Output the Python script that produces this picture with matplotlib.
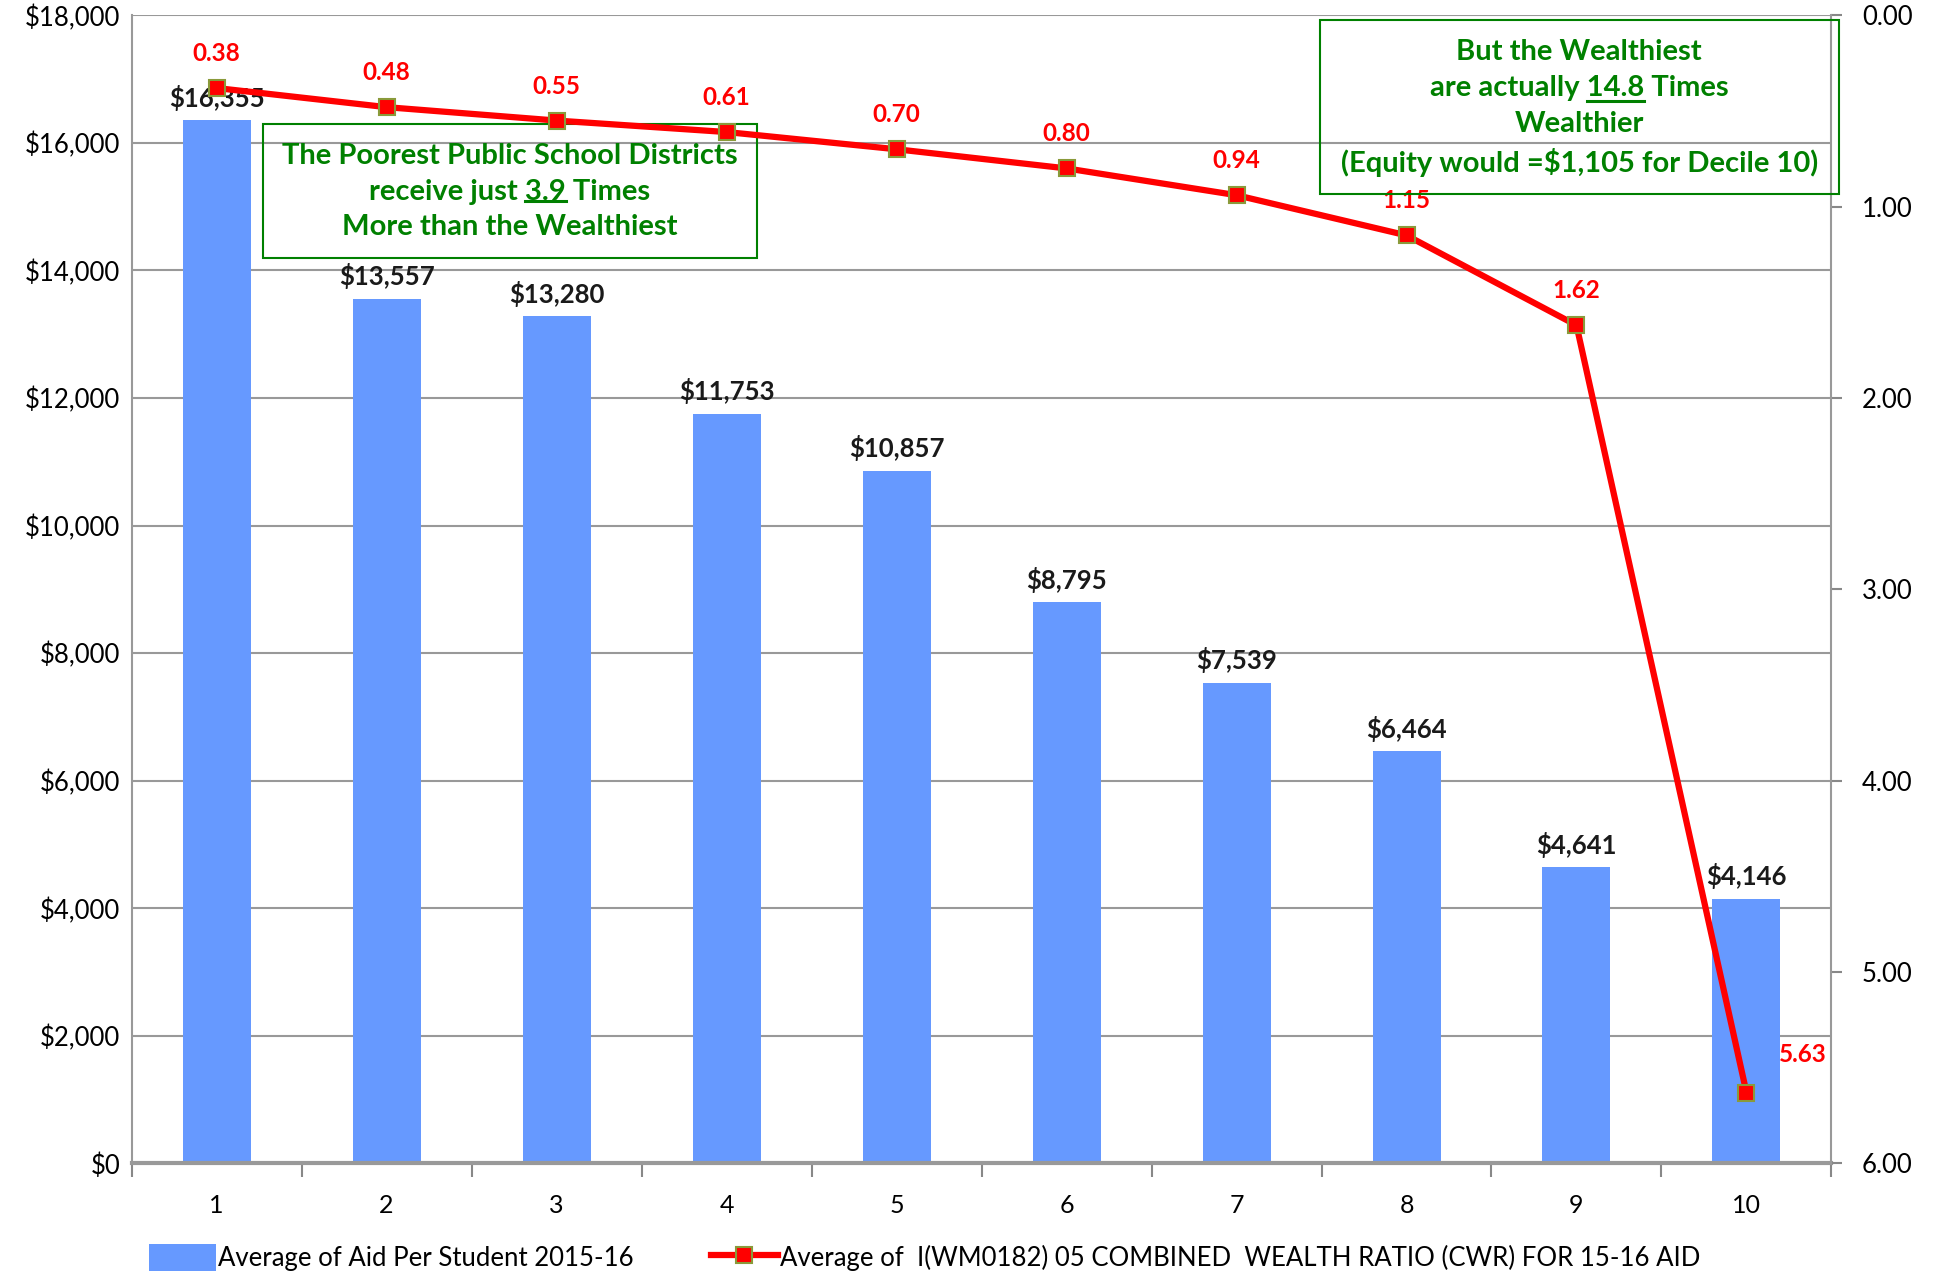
import matplotlib.pyplot as plt
from matplotlib.lines import Line2D
from matplotlib.patches import Rectangle
import numpy as np

plt.rcParams["font.family"] = ["Lato", "DejaVu Sans"]

deciles = ['1', '2', '3', '4', '5', '6', '7', '8', '9', '10']
aid = [16355, 13557, 13280, 11753, 10857, 8795, 7539, 6464, 4641, 4146]
cwr = [0.38, 0.48, 0.55, 0.61, 0.70, 0.80, 0.94, 1.15, 1.62, 5.63]

bar_color = '#6699FF'
green = '#008000'

fig = plt.figure(figsize=(19.36, 12.77), dpi=100)
ax = fig.add_axes([0.068, 0.089, 0.878, 0.899])
x = np.arange(len(deciles))

bars = ax.bar(x, aid, width=0.4, color=bar_color, zorder=2,
              label='Average of Aid Per Student 2015-16')
ax.set_ylim(0, 18000)
ax.set_xlim(-0.5, len(deciles) - 0.5)
ax.set_yticks(np.arange(0, 18001, 2000))
ax.set_yticklabels(['${:,.0f}'.format(v) for v in np.arange(0, 18001, 2000)])
ax.set_xticks(x)
ax.set_xticklabels(deciles)
ax.set_xticks(np.arange(-0.5, len(deciles), 1), minor=True)
ax.tick_params(axis='x', which='major', length=0, pad=22, labelsize=18)
ax.tick_params(axis='x', which='minor', length=10, color='#888888', width=1.5)
ax.tick_params(axis='y', length=0, labelsize=18.5, pad=8)
ax.grid(axis='y', color='#999999', linewidth=1.5, zorder=0)
for s in ['top', 'right']:
    ax.spines[s].set_visible(False)
ax.spines['left'].set_color('#999999')
ax.spines['left'].set_linewidth(1.5)
ax.spines['bottom'].set_color('#999999')
ax.spines['bottom'].set_linewidth(3)

for xi, v in zip(x, aid):
    ax.text(xi, v + 150, '${:,.0f}'.format(v), ha='center', va='bottom',
            fontsize=18.5, fontweight='bold', color='#1a1a1a', zorder=5)

ax2 = ax.twinx()
ax2.set_ylim(6, 0)
ax2.set_yticks(np.arange(0, 7, 1))
ax2.set_yticklabels(['{:.2f}'.format(v) for v in np.arange(0, 7, 1)])
ax2.tick_params(axis='y', length=8, color='#888888', width=1.5, labelsize=18.5, pad=14)
for s in ['top', 'left', 'bottom']:
    ax2.spines[s].set_visible(False)
ax2.spines['right'].set_color('#999999')
ax2.spines['right'].set_linewidth(1.5)

line, = ax2.plot(x, cwr, color='#FF0000', linewidth=4.5, marker='s', markersize=11,
                 markerfacecolor='#FF0000', markeredgecolor='#8a9a3a', markeredgewidth=1.5,
                 zorder=4, label='Average of  I(WM0182) 05 COMBINED  WEALTH RATIO (CWR) FOR 15-16 AID')
for xi, v in zip(x, cwr):
    if xi == len(x) - 1:
        ax2.text(xi + 0.19, v - 0.2, '{:.2f}'.format(v), ha='left', va='center',
                 fontsize=17.5, fontweight='bold', color='#FF0000')
    else:
        ax2.text(xi, v - 0.12, '{:.2f}'.format(v), ha='center', va='bottom',
                 fontsize=17.5, fontweight='bold', color='#FF0000')

renderer = fig.canvas.get_renderer()
FS = 21


def text_width(s):
    t = fig.text(0, 0, s, fontsize=FS, fontweight='bold')
    w = t.get_window_extent(renderer).width
    t.remove()
    return w


def boxed(x0, y0, x1, y1, cx, cy, lines, ul_line, ul_prefix, ul_word):
    ax2.add_patch(Rectangle((x0, y0), x1 - x0, y1 - y0, transform=fig.transFigure,
                            facecolor='none', edgecolor=green, linewidth=1.5,
                            zorder=3, clip_on=False))
    t = ax2.text(cx, cy, '\n'.join(lines), ha='center', va='center', fontsize=FS,
                 fontweight='bold', color=green, linespacing=1.47, zorder=3,
                 transform=fig.transFigure, clip_on=False)
    ext = t.get_window_extent(renderer)
    lh = ext.height / len(lines)
    W = text_width(lines[ul_line])
    N = text_width(ul_word)
    P = text_width(ul_prefix + ul_word) - N
    fw, fh = fig.bbox.width, fig.bbox.height
    left = cx * fw - W / 2
    y = ext.y1 - (ul_line + 1) * lh + lh * 0.2
    ax2.add_line(Line2D([(left + P) / fw, (left + P + N) / fw], [y / fh, y / fh],
                        transform=fig.transFigure, color=green, linewidth=2.2,
                        zorder=3, clip_on=False))


boxed(0.1358, 0.798, 0.391, 0.903, 0.2634, 0.850,
      ["The Poorest Public School Districts", "receive just 3.9 Times",
       "More than the Wealthiest"], 1, "receive just ", "3.9")

boxed(0.682, 0.848, 0.950, 0.984, 0.8157, 0.9155,
      ["But the Wealthiest", "are actually 14.8 Times", "Wealthier",
       "(Equity would =$1,105 for Decile 10)"], 1, "are actually ", "14.8")

fig.legend([bars, line], [bars.get_label(), line.get_label()], loc='center',
           bbox_to_anchor=(0.4777, 0.015), ncol=2, frameon=False, fontsize=18.5,
           handlelength=2.6, handleheight=1.2, columnspacing=3.0, handletextpad=0.1)

fig.savefig('out.png', dpi=100)
